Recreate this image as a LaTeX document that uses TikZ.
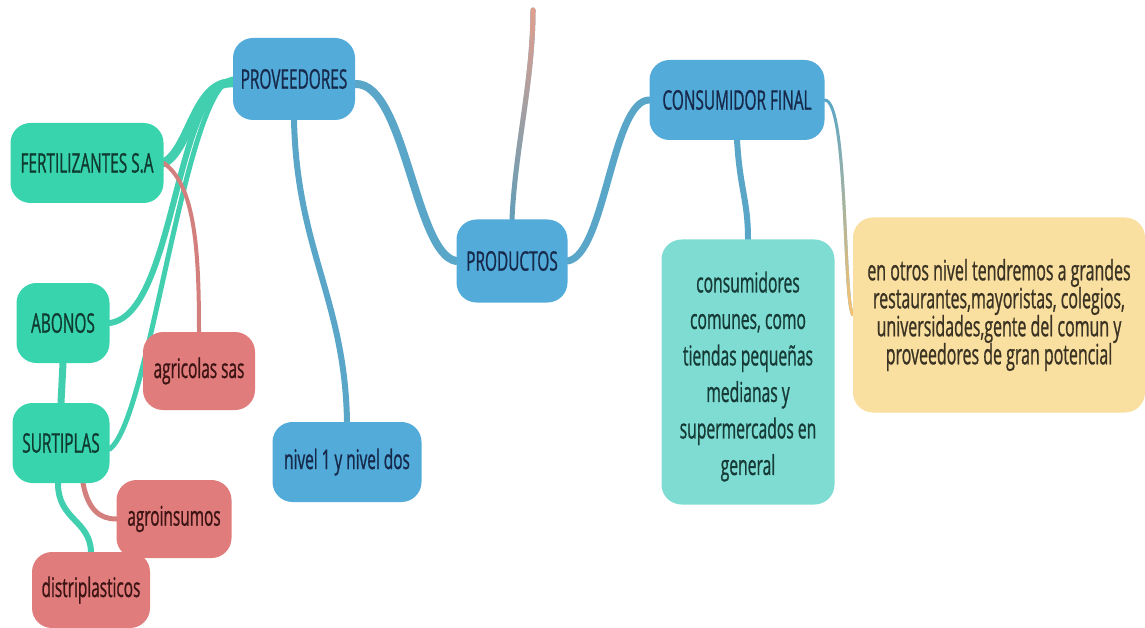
\documentclass[tikz,border=0pt]{standalone}
\usepackage{fontspec}
\setmainfont[FakeStretch=0.57,FakeBold=0.8]{Open Sans}
\usetikzlibrary{fadings}
\definecolor{nblue}{HTML}{52ABD9}
\definecolor{nteal}{HTML}{38D4AE}
\definecolor{nred}{HTML}{E07C7B}
\definecolor{naqua}{HTML}{7FDCD3}
\definecolor{nyel}{HTML}{F9DFA0}
\definecolor{eblue}{HTML}{5AA6C8}
\definecolor{eteal}{HTML}{42CFB0}
\definecolor{ered}{HTML}{D27F7E}
\definecolor{esalmon}{HTML}{E2A08E}
\definecolor{tblue}{HTML}{16294A}
\definecolor{tteal}{HTML}{0F3A30}
\definecolor{tred}{HTML}{3D1414}
\definecolor{taqua}{HTML}{163A36}
\definecolor{tyel}{HTML}{3A3222}
\pgfdeclarelayer{bg}
\pgfsetlayers{bg,main}
\begin{document}
\begin{tikzpicture}[x=1pt,y=-1pt,
  box/.style={rounded corners=20pt, inner sep=0pt, align=center, font=\fontsize{27}{30}\selectfont},
  bluebox/.style={box, fill=nblue, text=tblue},
  tealbox/.style={box, fill=nteal, text=tteal},
  redbox/.style={box, fill=nred, text=tred},
  aquabox/.style={box, fill=naqua, text=taqua, font=\fontsize{27.5}{36.5}\selectfont},
  yelbox/.style={box, fill=nyel, text=tyel, font=\fontsize{28}{28}\selectfont},
  link/.style={line cap=round, line join=round}]
\useasboundingbox (0,0) rectangle (1145,628);

\node[bluebox, minimum width=122pt, minimum height=82pt] (prov) at (294,79) {PROVEEDORES};
\node[tealbox, minimum width=153pt, minimum height=80pt] (fert) at (87,163) {FERTILIZANTES S.A};
\node[tealbox, minimum width=93pt, minimum height=80pt] (abon) at (63,323) {ABONOS};
\node[tealbox, minimum width=97pt, minimum height=80pt] (surt) at (61,443) {SURTIPLAS};
\node[redbox, minimum width=112pt, minimum height=78pt] (agri) at (199,371) {agricolas sas};
\node[redbox, minimum width=115pt, minimum height=78pt] (agro) at (174,519) {agroinsumos};
\node[redbox, minimum width=118pt, minimum height=76pt] (dist) at (91,590) {distriplasticos};
\node[bluebox, minimum width=149pt, minimum height=80pt] (nivel) at (347,462) {nivel 1 y nivel dos};
\node[bluebox, minimum width=111pt, minimum height=83pt] (prod) at (512,261) {PRODUCTOS};
\node[bluebox, minimum width=175pt, minimum height=80pt] (cons) at (737,100) {CONSUMIDOR FINAL};
\node[aquabox, minimum width=173pt, minimum height=265pt] (comun) at (748,372)
  {\rule{0pt}{30pt}consumidores\\comunes, como\\tiendas pequeñas\\medianas y\\supermercados en\\general};
\node[yelbox, minimum width=292pt, minimum height=195pt] (otros) at (999,315)
  {en otros nivel tendremos a grandes\\restaurantes,mayoristas, colegios,\\universidades,gente del comun y\\proveedores de gran potencial};
\coordinate (topend) at (533,10);

\begin{pgfonlayer}{bg}
\draw[link, eblue, line width=8pt] (prod.west) .. controls (415,255) and (405,82) .. ([yshift=-5pt]prov.east);
\draw[link, eblue, line width=7pt] (prod.east) .. controls (605,255) and (612,100) .. (cons.west);
\draw[link, eblue!80!gray, line width=5pt] (prod.north) .. controls (515,150) and (533,80) .. (topend);
\draw[link, esalmon, line width=5pt, path fading=south] (prod.north) .. controls (515,150) and (533,80) .. (topend);
\draw[link, eblue, line width=6pt] (prov.south) .. controls (297,250) and (345,300) .. (nivel.north);
\draw[link, eteal, line width=9pt] ([yshift=-4pt]prov.west) .. controls (195,80) and (190,150) .. (fert.east);
\draw[link, eteal, line width=6pt] ([yshift=-2pt]prov.west) .. controls (175,85) and (175,315) .. (abon.east);
\draw[link, eteal, line width=5pt] (prov.west) .. controls (185,85) and (150,420) .. ([yshift=-6pt]surt.east);
\draw[link, ered, line width=4pt] (fert.east) .. controls (195,185) and (199,250) .. (agri.north);
\draw[link, eteal, line width=7pt] (abon.south) -- (surt.north);
\draw[link, ered, line width=5pt] ([xshift=22pt]surt.south) .. controls (88,510) and (100,519) .. (agro.west);
\draw[link, eteal, line width=6pt] ([xshift=-3pt]surt.south) .. controls (58,520) and (90,520) .. (dist.north);
\draw[link, eblue, line width=6pt] (cons.south) .. controls (740,190) and (748,200) .. (comun.north);
\draw[link, eblue, line width=3pt] (cons.east) .. controls (848,100) and (843,300) .. (otros.west);
\draw[link, nyel!70!orange, line width=3pt, path fading=north] (cons.east) .. controls (848,100) and (843,300) .. (otros.west);
\end{pgfonlayer}
\end{tikzpicture}
\end{document}
